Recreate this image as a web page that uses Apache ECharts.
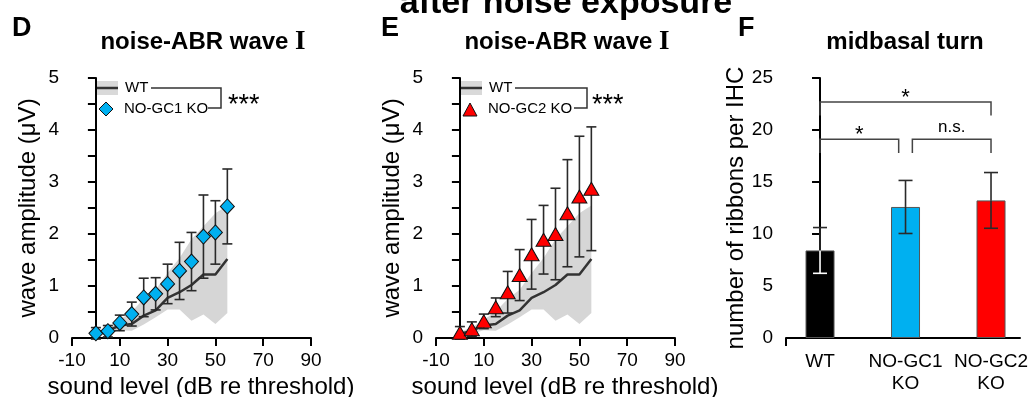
<!DOCTYPE html>
<html>
<head>
<meta charset="utf-8">
<script src="https://cdn.jsdelivr.net/npm/echarts@6/dist/echarts.min.js"></script>
<style>
  html, body { margin: 0; padding: 0; background: #fff; }
  #chart { width: 1032px; height: 397px; }
</style>
</head>
<body>
<div id="chart"></div>
<script>
// sound level (dB re threshold)
const levels = [0, 5, 10, 15, 20, 25, 30, 35, 40, 45, 50, 55];

// WT mean line and grey band (same in D and E)
const wtMean = [0.08, 0.14, 0.24, 0.27, 0.43, 0.53, 0.77, 0.88, 1.02, 1.22, 1.22, 1.52];
const wtLow = [0.04, 0.08, 0.15, 0.14, 0.26, 0.4, 0.55, 0.55, 0.33, 0.45, 0.27, 0.48];
const wtHigh = [0.12, 0.2, 0.35, 0.51, 0.75, 0.93, 1.25, 1.54, 1.9, 2.15, 2.4, 2.55];

// NO-GC1 KO (panel D)
const gc1Mean = [0.09, 0.13, 0.29, 0.46, 0.78, 0.85, 1.04, 1.29, 1.47, 1.95, 2.03, 2.53];
const gc1Err = [0.11, 0.11, 0.15, 0.23, 0.37, 0.31, 0.38, 0.55, 0.56, 0.8, 0.61, 0.72];

// NO-GC2 KO (panel E)
const gc2Mean = [0.1, 0.17, 0.32, 0.59, 0.88, 1.21, 1.61, 1.89, 2.0, 2.4, 2.72, 2.87];
const gc2Err = [0.12, 0.14, 0.14, 0.18, 0.4, 0.49, 0.67, 0.66, 0.88, 1.03, 1.16, 1.19];

// ribbons per IHC, midbasal turn (panel F)
const groups = ['WT', 'NO-GC1\nKO', 'NO-GC2\nKO'];
const ribbonMean = [8.42, 12.6, 13.23];
const ribbonErr = [2.2, 2.55, 2.68];
const sigPairs = [[0, 2], [0, 1], [1, 2]];
const sigLabels = ['*', '*', 'n.s.'];

const FONT = '"Liberation Sans", Arial, sans-serif';
const BLUE = '#00b0f0';
const RED = '#ff0000';
const DARK = '#2a2a2a';

const chart = echarts.init(document.getElementById('chart'));

function errRender(capW, lowColors) {
  return function (params, api) {
    const x = api.value(0), m = api.value(1), e = api.value(2);
    const top = api.coord([x, m + e]);
    const mid = api.coord([x, m]);
    const bot = api.coord([x, m - e]);
    const lowC = lowColors ? lowColors[params.dataIndex] : DARK;
    const w = capW / 2;
    const line = (x1, y1, x2, y2, c) => ({
      type: 'line', shape: { x1, y1, x2, y2 },
      style: { stroke: c, lineWidth: 1.6 }
    });
    return {
      type: 'group',
      children: [
        line(top[0], top[1], mid[0], mid[1], DARK),
        line(top[0] - w, top[1], top[0] + w, top[1], DARK),
        line(mid[0], mid[1], bot[0], bot[1], lowC),
        line(bot[0] - w, bot[1], bot[0] + w, bot[1], lowC)
      ]
    };
  };
}

function bandRender(params, api) {
  if (params.dataIndex !== 0) return null;
  const pts = [];
  for (let i = 0; i < levels.length; i++) pts.push(api.coord([levels[i], wtHigh[i]]));
  for (let i = levels.length - 1; i >= 0; i--) pts.push(api.coord([levels[i], wtLow[i]]));
  return { type: 'polygon', shape: { points: pts }, style: { fill: '#d6d6d6' } };
}

function bracketRender(params, api) {
  const i = sigPairs[params.dataIndex][0], j = sigPairs[params.dataIndex][1];
  const level = j - i === 2 ? 22.7 : 19.1;
  const a = i === 1 ? i + 0.08 : i;
  const b = j === 1 ? j - 0.08 : j;
  const p1 = api.coord([a, level - 1.3]);
  const p2 = api.coord([a, level]);
  const p3 = api.coord([b, level]);
  const p4 = api.coord([b, level - 1.3]);
  const label = sigLabels[params.dataIndex];
  const star = label === '*';
  return {
    type: 'group',
    children: [
      { type: 'polyline', shape: { points: [p1, p2, p3, p4] }, style: { stroke: '#444', lineWidth: 1.5, fill: null } },
      {
        type: 'text',
        style: {
          text: label, x: (p2[0] + p3[0]) / 2, y: p2[1] - (star ? 4 : 12),
          textAlign: 'center', textVerticalAlign: 'middle',
          font: (star ? '22px ' : '17px ') + FONT, fill: '#000'
        }
      }
    ]
  };
}

function abrAxes(left) {
  return {
    grid: { left: left, top: 78, width: 239, height: 260, outerBoundsMode: 'none', containLabel: false },
    x: {
      type: 'value', min: -10, max: 90, interval: 20,
      name: 'sound level (dB re threshold)', nameLocation: 'middle', nameGap: 36,
      nameTextStyle: { fontSize: 24, fontFamily: FONT, color: '#000', padding: [0, 0, 0, 19] },
      axisLine: { lineStyle: { color: '#000', width: 2 } },
      axisTick: { length: 8, lineStyle: { color: '#000', width: 2 } },
      axisLabel: { fontSize: 19, fontFamily: FONT, color: '#000', margin: 13 },
      splitLine: { show: false }
    },
    y: {
      type: 'value', min: 0, max: 5, interval: 0.5,
      name: 'wave amplitude (μV)', nameLocation: 'middle', nameGap: 32,
      nameTextStyle: { fontSize: 24, fontFamily: FONT, color: '#000' },
      axisLine: { show: true, lineStyle: { color: '#000', width: 2 } },
      axisTick: { show: true, length: 8, lineStyle: { color: '#000', width: 2 } },
      axisLabel: {
        fontSize: 19, fontFamily: FONT, color: '#000', margin: 13,
        formatter: v => (Number.isInteger(v) ? String(v) : '')
      },
      splitLine: { show: false }
    }
  };
}

const D = abrAxes(72);
const E = abrAxes(436);

const F = {
  grid: { left: 786, top: 78, width: 234, height: 260, outerBoundsMode: 'none', containLabel: false },
  x: {
    type: 'value', min: -0.398, max: 2.339,
    axisLine: { lineStyle: { color: '#000', width: 2 } },
    axisTick: { show: true, customValues: [-0.398], length: 8, lineStyle: { color: '#000', width: 2 } },
    axisLabel: {
      customValues: [0, 1, 2], fontSize: 19, lineHeight: 22, fontFamily: FONT, color: '#000', margin: 13,
      formatter: v => groups[Math.round(v)]
    },
    splitLine: { show: false }
  },
  y: {
    type: 'value', min: 0, max: 25, interval: 5,
    name: 'number of ribbons per IHC', nameLocation: 'middle', nameGap: 37,
    nameTextStyle: { fontSize: 24, fontFamily: FONT, color: '#000' },
    axisLine: { show: true, lineStyle: { color: '#000', width: 2 } },
    axisTick: { show: true, length: 8, lineStyle: { color: '#000', width: 2 } },
    axisLabel: { fontSize: 19, fontFamily: FONT, color: '#000', margin: 13 },
    splitLine: { show: false }
  }
};

const pairs = (ys) => levels.map((x, i) => [x, ys[i]]);
const errData = (m, e) => levels.map((x, i) => [x, m[i], e[i]]);
const bandData = levels.map((x, i) => [x, wtLow[i], wtHigh[i]]);

function abrSeries(idx, mean, err, symbol, symbolSize, color) {
  return [
    { type: 'custom', xAxisIndex: idx, yAxisIndex: idx, renderItem: bandRender, data: bandData, z: 1, silent: true },
    {
      type: 'line', xAxisIndex: idx, yAxisIndex: idx, data: pairs(wtMean), symbol: 'none',
      lineStyle: { color: '#333', width: 2.5 }, z: 2, animation: false
    },
    { type: 'custom', xAxisIndex: idx, yAxisIndex: idx, renderItem: errRender(10), data: errData(mean, err), z: 3 },
    {
      type: 'scatter', xAxisIndex: idx, yAxisIndex: idx, data: pairs(mean), symbol: symbol, symbolSize: symbolSize,
      itemStyle: { color: color, borderColor: '#111', borderWidth: 1, opacity: 1 }, z: 4
    }
  ];
}

function legend(x0, sym, label, bx, bEnd, starsX) {
  return [
    { type: 'rect', shape: { x: x0, y: 81, width: 23, height: 14 }, style: { fill: '#d9d9d9' } },
    { type: 'line', shape: { x1: x0, y1: 88, x2: x0 + 23, y2: 88 }, style: { stroke: '#333', lineWidth: 2.5 } },
    { type: 'text', style: { text: 'WT', x: x0 + 30, y: 88, textVerticalAlign: 'middle', font: '15px ' + FONT, fill: '#000' } },
    sym,
    { type: 'text', style: { text: label, x: x0 + 29, y: 109, textVerticalAlign: 'middle', font: '15px ' + FONT, fill: '#000' } },
    { type: 'polyline', shape: { points: [[bx, 88], [bEnd, 88], [bEnd, 108], [bEnd - 13, 108]] }, style: { stroke: '#333', lineWidth: 1.5, fill: null } },
    { type: 'text', style: { text: '***', x: starsX, y: 106, textVerticalAlign: 'middle', font: '27px ' + FONT, fill: '#000' } }
  ];
}

function panelTitle(x, y, s) {
  return {
    type: 'text',
    style: {
      text: s, x: x, y: y, textAlign: 'center', textVerticalAlign: 'middle',
      font: 'bold 24px ' + FONT, fill: '#000',
      rich: {
        a: { font: 'bold 24px ' + FONT },
        b: { font: 'bold 27px "Liberation Serif", "Times New Roman", serif' }
      }
    }
  };
}

function letter(x, s) {
  return { type: 'text', style: { text: s, x: x, y: 29, textVerticalAlign: 'middle', font: 'bold 27px ' + FONT, fill: '#000' } };
}

const option = {
  backgroundColor: '#fff',
  animation: false,
  grid: [D.grid, E.grid, F.grid],
  xAxis: [
    Object.assign({ gridIndex: 0 }, D.x),
    Object.assign({ gridIndex: 1 }, E.x),
    Object.assign({ gridIndex: 2 }, F.x)
  ],
  yAxis: [
    Object.assign({ gridIndex: 0 }, D.y),
    Object.assign({ gridIndex: 1 }, E.y),
    Object.assign({ gridIndex: 2 }, F.y)
  ],
  series: [
    ...abrSeries(0, gc1Mean, gc1Err, 'diamond', [14, 15], BLUE),
    ...abrSeries(1, gc2Mean, gc2Err, 'triangle', [15, 13], RED),
    {
      type: 'bar', xAxisIndex: 2, yAxisIndex: 2, barWidth: 29,
      data: ribbonMean.map((v, i) => ({ value: [i, v], itemStyle: { color: ['#000', BLUE, RED][i] } })),
      itemStyle: { borderColor: '#555', borderWidth: 1 }, z: 2
    },
    {
      type: 'custom', xAxisIndex: 2, yAxisIndex: 2, renderItem: errRender(14, ['#fff', DARK, DARK]),
      data: ribbonMean.map((v, i) => [i, v, ribbonErr[i]]), z: 3
    },
    {
      type: 'custom', xAxisIndex: 2, yAxisIndex: 2, renderItem: bracketRender,
      data: sigPairs.map((p, i) => [i, 20]), z: 3, silent: true
    }
  ],
  graphic: [
    { type: 'text', style: { text: 'after noise exposure', x: 566, y: 4, textAlign: 'center', textVerticalAlign: 'middle', font: 'bold 34px ' + FONT, fill: '#000' } },
    letter(12, 'D'), letter(381, 'E'), letter(738, 'F'),
    panelTitle(203, 42, '{a|noise-ABR wave }{b|I}'),
    panelTitle(567, 42, '{a|noise-ABR wave }{b|I}'),
    panelTitle(905, 42, '{a|midbasal turn}'),
    ...legend(95, { type: 'polygon', shape: { points: [[106, 102], [113, 109], [106, 116], [99, 109]] }, style: { fill: BLUE, stroke: '#111', lineWidth: 1 } },
      'NO-GC1 KO', 151, 221, 228),
    ...legend(459, { type: 'polygon', shape: { points: [[470, 103], [477, 116], [463, 116]] }, style: { fill: RED, stroke: '#111', lineWidth: 1 } },
      'NO-GC2 KO', 515, 587, 592)
  ]
};

chart.setOption(option);
</script>
</body>
</html>
